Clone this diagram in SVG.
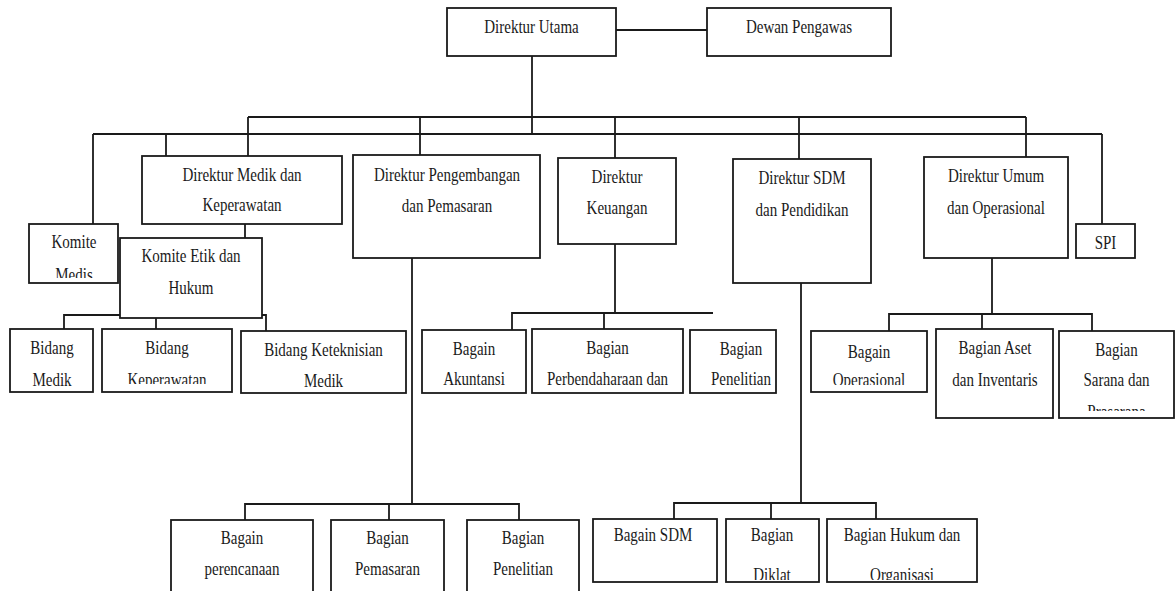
<svg xmlns="http://www.w3.org/2000/svg" width="1176" height="591" viewBox="0 0 1176 591">
<style>
.b{fill:#fff;stroke:#1a1a1a;stroke-width:1.8}
.c{fill:none;stroke:#1a1a1a;stroke-width:1.8}
.t{font-family:"Liberation Serif","Times New Roman",serif;font-size:19px;text-anchor:middle;fill:#1a1a1a}
</style>
<defs>
<clipPath id="ckm"><rect x="29" y="224" width="89" height="54"/></clipPath>
<clipPath id="cbk"><rect x="102" y="329" width="130" height="55"/></clipPath>
<clipPath id="cbo"><rect x="811" y="331" width="116" height="54"/></clipPath>
<clipPath id="cbsp"><rect x="1059" y="331" width="115" height="80"/></clipPath>
<clipPath id="cbot"><rect x="700" y="519" width="300" height="61"/></clipPath>
</defs>
<rect width="1176" height="591" fill="#fff"/>
<g id="connectors" class="c">
<line x1="616" y1="30" x2="707" y2="30"/>
<line x1="532" y1="56" x2="532" y2="134"/>
<line x1="248" y1="117" x2="1026" y2="117"/>
<line x1="93" y1="134" x2="1102" y2="134"/>
<line x1="248" y1="117" x2="248" y2="156"/>
<line x1="420" y1="117" x2="420" y2="155"/>
<line x1="615" y1="117" x2="615" y2="158"/>
<line x1="799" y1="117" x2="799" y2="159"/>
<line x1="1026" y1="117" x2="1026" y2="157"/>
<line x1="93" y1="134" x2="93" y2="224"/>
<line x1="166" y1="134" x2="166" y2="156"/>
<line x1="1102" y1="134" x2="1102" y2="224"/>
<line x1="245" y1="224" x2="245" y2="238"/>
<path d="M64,329 V315 H266 V331"/>
<line x1="156" y1="318" x2="156" y2="329"/>
<line x1="412" y1="258" x2="412" y2="504"/>
<path d="M245,520 V504 H519 V520"/>
<line x1="389" y1="504" x2="389" y2="520"/>
<line x1="615" y1="244" x2="615" y2="313"/>
<path d="M512,330 V313 H713"/>
<line x1="604" y1="313" x2="604" y2="329"/>
<line x1="801" y1="283" x2="801" y2="503"/>
<path d="M674,519 V503 H876 V519"/>
<line x1="771" y1="503" x2="771" y2="519"/>
<line x1="992" y1="258" x2="992" y2="314"/>
<path d="M889,331 V314 H1092 V331"/>
<line x1="982" y1="314" x2="982" y2="329"/>
</g>
<g id="direktur-utama"><rect class="b" x="447" y="8" width="169" height="48"/><text class="t" transform="translate(531.5 33) scale(0.79 1)">Direktur Utama</text></g>
<g id="dewan-pengawas"><rect class="b" x="707" y="8" width="184" height="48"/><text class="t" transform="translate(799 33) scale(0.79 1)">Dewan Pengawas</text></g>
<g id="direktur-medik"><rect class="b" x="142" y="156" width="200" height="68"/><text class="t" transform="translate(242 181) scale(0.79 1)">Direktur Medik dan</text><text class="t" transform="translate(242 211) scale(0.79 1)">Keperawatan</text></g>
<g id="komite-medis"><rect class="b" x="29" y="224" width="89" height="59"/><g clip-path="url(#ckm)"><text class="t" transform="translate(74 248) scale(0.79 1)">Komite</text><text class="t" transform="translate(74 281) scale(0.79 1)">Medis</text></g></g>
<g id="komite-etik"><rect class="b" x="120" y="238" width="142" height="80"/><text class="t" transform="translate(191 262) scale(0.79 1)">Komite Etik dan</text><text class="t" transform="translate(191 294) scale(0.79 1)">Hukum</text></g>
<g id="bidang-medik"><rect class="b" x="10" y="329" width="83" height="63"/><text class="t" transform="translate(52 354) scale(0.79 1)">Bidang</text><text class="t" transform="translate(52 386) scale(0.79 1)">Medik</text></g>
<g id="bidang-keperawatan"><rect class="b" x="102" y="329" width="130" height="63"/><g clip-path="url(#cbk)"><text class="t" transform="translate(167 354) scale(0.79 1)">Bidang</text><text class="t" transform="translate(167 386) scale(0.79 1)">Keperawatan</text></g></g>
<g id="bidang-keteknisian"><rect class="b" x="241" y="331" width="165" height="62"/><text class="t" transform="translate(323.5 356) scale(0.79 1)">Bidang Keteknisian</text><text class="t" transform="translate(323.5 387) scale(0.79 1)">Medik</text></g>
<g id="direktur-pengembangan"><rect class="b" x="353" y="155" width="187" height="103"/><text class="t" transform="translate(447 181) scale(0.79 1)">Direktur Pengembangan</text><text class="t" transform="translate(447 212) scale(0.79 1)">dan Pemasaran</text></g>
<g id="direktur-keuangan"><rect class="b" x="558" y="158" width="118" height="86"/><text class="t" transform="translate(617 183) scale(0.79 1)">Direktur</text><text class="t" transform="translate(617 214) scale(0.79 1)">Keuangan</text></g>
<g id="bagian-akuntansi"><rect class="b" x="422" y="330" width="104" height="63"/><text class="t" transform="translate(474 355) scale(0.79 1)">Bagain</text><text class="t" transform="translate(474 385) scale(0.79 1)">Akuntansi</text></g>
<g id="bagian-perbendaharaan"><rect class="b" x="532" y="329" width="151" height="64"/><text class="t" transform="translate(607.5 354) scale(0.79 1)">Bagian</text><text class="t" transform="translate(607.5 385) scale(0.79 1)">Perbendaharaan dan</text></g>
<g id="bagian-penelitian-keu"><rect class="b" x="690" y="330" width="86" height="63"/><text class="t" transform="translate(741 355) scale(0.79 1)">Bagian</text><text class="t" transform="translate(741 385) scale(0.79 1)">Penelitian</text></g>
<g id="direktur-sdm"><rect class="b" x="733" y="159" width="138" height="124"/><text class="t" transform="translate(802 184) scale(0.79 1)">Direktur SDM</text><text class="t" transform="translate(802 216) scale(0.79 1)">dan Pendidikan</text></g>
<g id="direktur-umum"><rect class="b" x="924" y="157" width="144" height="101"/><text class="t" transform="translate(996 182) scale(0.79 1)">Direktur Umum</text><text class="t" transform="translate(996 214) scale(0.79 1)">dan Operasional</text></g>
<g id="spi"><rect class="b" x="1076" y="224" width="59" height="34"/><text class="t" transform="translate(1105.5 249) scale(0.79 1)">SPI</text></g>
<g id="bagian-operasional"><rect class="b" x="811" y="331" width="116" height="61"/><g clip-path="url(#cbo)"><text class="t" transform="translate(869 358) scale(0.79 1)">Bagain</text><text class="t" transform="translate(869 386) scale(0.79 1)">Operasional</text></g></g>
<g id="bagian-aset"><rect class="b" x="936" y="329" width="117" height="89"/><text class="t" transform="translate(995 354) scale(0.79 1)">Bagian Aset</text><text class="t" transform="translate(995 386) scale(0.79 1)">dan Inventaris</text></g>
<g id="bagian-sarana"><rect class="b" x="1059" y="331" width="115" height="87"/><g clip-path="url(#cbsp)"><text class="t" transform="translate(1116.5 356) scale(0.79 1)">Bagian</text><text class="t" transform="translate(1116.5 386) scale(0.79 1)">Sarana dan</text><text class="t" transform="translate(1116.5 418) scale(0.79 1)">Prasarana</text></g></g>
<g id="bagian-perencanaan"><rect class="b" x="171" y="520" width="142" height="80"/><text class="t" transform="translate(242 544) scale(0.79 1)">Bagain</text><text class="t" transform="translate(242 575) scale(0.79 1)">perencanaan</text></g>
<g id="bagian-pemasaran"><rect class="b" x="331" y="520" width="113" height="80"/><text class="t" transform="translate(387.5 544) scale(0.79 1)">Bagian</text><text class="t" transform="translate(387.5 575) scale(0.79 1)">Pemasaran</text></g>
<g id="bagian-penelitian"><rect class="b" x="467" y="520" width="112" height="80"/><text class="t" transform="translate(523 544) scale(0.79 1)">Bagian</text><text class="t" transform="translate(523 575) scale(0.79 1)">Penelitian</text></g>
<g id="bagian-sdm"><rect class="b" x="593" y="519" width="124" height="63"/><text class="t" transform="translate(653 541) scale(0.79 1)">Bagain SDM</text></g>
<g id="bagian-diklat"><rect class="b" x="726" y="519" width="93" height="63"/><g clip-path="url(#cbot)"><text class="t" transform="translate(772 541) scale(0.79 1)">Bagian</text><text class="t" transform="translate(772 581) scale(0.79 1)">Diklat</text></g></g>
<g id="bagian-hukum"><rect class="b" x="827" y="519" width="150" height="63"/><g clip-path="url(#cbot)"><text class="t" transform="translate(902 541) scale(0.79 1)">Bagian Hukum dan</text><text class="t" transform="translate(902 581) scale(0.79 1)">Organisasi</text></g></g>
</svg>
